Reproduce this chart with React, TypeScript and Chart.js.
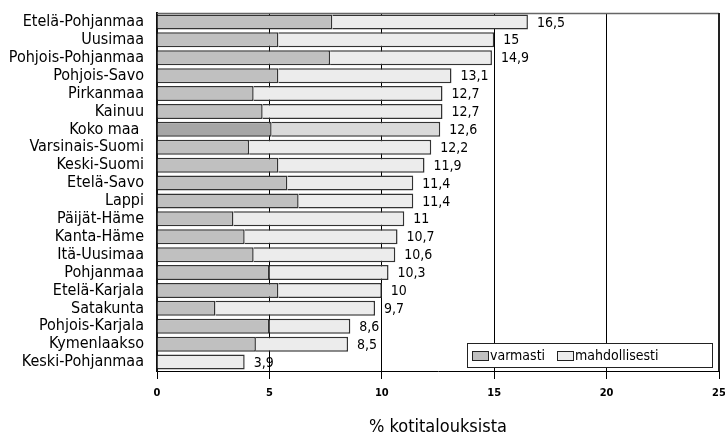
import React, { useEffect, useRef } from "react";
import { Chart, registerables } from "chart.js";

Chart.register(...registerables);

const categories = [
  "Etelä-Pohjanmaa",
  "Uusimaa",
  "Pohjois-Pohjanmaa",
  "Pohjois-Savo",
  "Pirkanmaa",
  "Kainuu",
  "Koko maa ",
  "Varsinais-Suomi",
  "Keski-Suomi",
  "Etelä-Savo",
  "Lappi",
  "Päijät-Häme",
  "Kanta-Häme",
  "Itä-Uusimaa",
  "Pohjanmaa",
  "Etelä-Karjala",
  "Satakunta",
  "Pohjois-Karjala",
  "Kymenlaakso",
  "Keski-Pohjanmaa",
];
const varmasti = [7.8, 5.4, 7.7, 5.4, 4.3, 4.7, 5.1, 4.1, 5.4, 5.8, 6.3, 3.4, 3.9, 4.3, 5.0, 5.4, 2.6, 5.0, 4.4, 0];
const mahdollisesti = [8.7, 9.6, 7.2, 7.7, 8.4, 8.0, 7.5, 8.1, 6.5, 5.6, 5.1, 7.6, 6.8, 6.3, 5.3, 4.6, 7.1, 3.6, 4.1, 3.9];
const totalLabels = ["16,5", "15", "14,9", "13,1", "12,7", "12,7", "12,6", "12,2", "11,9", "11,4", "11,4", "11", "10,7", "10,6", "10,3", "10", "9,7", "8,6", "8,5", "3,9"];
const seriesNames = ["varmasti", "mahdollisesti"];
const axisTitle = "% kotitalouksista";
const xMin = 0;
const xMax = 25;
const xStep = 5;
const highlight = "Koko maa ";

const FONT = '"DejaVu Sans Condensed", "Liberation Sans", sans-serif';
const DARK_COLORS = ["#c0c0c0", "#a6a6a6"];
const LIGHT_COLORS = ["#ececec", "#dadada"];

export default function App() {
  const ref = useRef<HTMLCanvasElement>(null);

  useEffect(() => {
    const canvas = ref.current;
    if (!canvas) return;

    const labelPlugin = {
      id: "bgAndLabels",
      beforeDraw(chart: any) {
        const ctx = chart.ctx;
        ctx.save();
        ctx.fillStyle = "#ffffff";
        ctx.fillRect(0, 0, chart.width, chart.height);
        const meta = chart.getDatasetMeta(1);
        ctx.fillStyle = "#000";
        ctx.font = `14px ${FONT}`;
        ctx.textAlign = "left";
        ctx.textBaseline = "middle";
        meta.data.forEach((bar: any, i: number) => {
          ctx.fillText(totalLabels[i], bar.x + 9, bar.y + 1);
        });
        ctx.restore();
      },
      afterDatasetsDraw(chart: any) {
        const { ctx, chartArea } = chart;
        ctx.save();
        ctx.strokeStyle = "#666";
        ctx.lineWidth = 1.5;
        ctx.beginPath();
        ctx.moveTo(chartArea.left, chartArea.top + 0.5);
        ctx.lineTo(chartArea.right, chartArea.top + 0.5);
        ctx.stroke();
        ctx.strokeStyle = "#222";
        ctx.lineWidth = 2;
        ctx.beginPath();
        ctx.moveTo(chartArea.right, chartArea.top);
        ctx.lineTo(chartArea.right, chartArea.bottom);
        ctx.stroke();
        ctx.restore();
      },
      afterDraw(chart: any) {
        const { ctx, chartArea } = chart;
        ctx.save();
        // legend box
        const bw = 245;
        const bh = 24;
        const bx = chartArea.right - 7 - bw;
        const by = chartArea.bottom - 4 - bh;
        ctx.fillStyle = "#fff";
        ctx.fillRect(bx, by, bw, bh);
        ctx.strokeStyle = "#222";
        ctx.lineWidth = 1;
        ctx.strokeRect(bx + 0.5, by + 0.5, bw, bh);
        ctx.font = `14px ${FONT}`;
        ctx.textBaseline = "middle";
        ctx.textAlign = "left";
        const items = [
          { x: bx + 5, color: DARK_COLORS[0], text: seriesNames[0] },
          { x: bx + 90, color: LIGHT_COLORS[0], text: seriesNames[1] },
        ];
        items.forEach((it) => {
          ctx.fillStyle = it.color;
          ctx.fillRect(it.x, by + 8, 16, 9);
          ctx.strokeStyle = "#222";
          ctx.strokeRect(it.x + 0.5, by + 8.5, 16, 9);
          ctx.fillStyle = "#000";
          ctx.fillText(it.text, it.x + 18, by + bh / 2 + 1);
        });
        // axis title
        ctx.font = `18px ${FONT}`;
        ctx.textAlign = "center";
        ctx.textBaseline = "middle";
        ctx.fillStyle = "#000";
        ctx.fillText(axisTitle, (chartArea.left + chartArea.right) / 2, 427);
        ctx.restore();
      },
    };

    const chart = new Chart(canvas, {
      type: "bar",
      data: {
        labels: categories,
        datasets: [
          {
            label: seriesNames[0],
            data: varmasti,
            backgroundColor: categories.map((c) => (c === highlight ? DARK_COLORS[1] : DARK_COLORS[0])),
            borderColor: "#333",
            borderWidth: 1.5,
            barPercentage: 0.84,
            categoryPercentage: 1.0,
          },
          {
            label: seriesNames[1],
            data: mahdollisesti,
            backgroundColor: categories.map((c) => (c === highlight ? LIGHT_COLORS[1] : LIGHT_COLORS[0])),
            borderColor: "#333",
            borderWidth: 1.5,
            barPercentage: 0.84,
            categoryPercentage: 1.0,
          },
        ],
      },
      options: {
        indexAxis: "y",
        responsive: false,
        animation: false,
        layout: { padding: { top: 13, right: 6, left: 0, bottom: 0 } },
        plugins: {
          legend: { display: false },
          tooltip: { enabled: false },
          title: { display: false },
        },
        scales: {
          x: {
            stacked: true,
            min: xMin,
            max: xMax,
            ticks: {
              stepSize: xStep,
              color: "#000",
              font: { family: FONT, size: 11, weight: "bold" },
              padding: 8,
            },
            grid: {
              color: "#000",
              lineWidth: 1,
              tickLength: 8,
              drawOnChartArea: true,
            },
            border: { display: true, color: "#000", width: 1 },
            afterFit: (scale: any) => {
              scale.height = 66;
              scale.paddingRight = 0;
              scale.paddingLeft = 0;
            },
          },
          y: {
            stacked: true,
            ticks: {
              color: "#000",
              font: { family: FONT, size: 16 },
              padding: 13,
              autoSkip: false,
            },
            grid: { display: false, drawTicks: false },
            border: { display: true, color: "#111", width: 2 },
            afterFit: (scale: any) => {
              scale.width = 157;
              scale.paddingTop = 0;
              scale.paddingBottom = 0;
            },
          },
        },
      },
      plugins: [labelPlugin],
    } as any);

    return () => chart.destroy();
  }, []);

  return (
    <div style={{ position: "absolute", left: 0, top: 0, width: 725, height: 437 }}>
      <canvas ref={ref} width={725} height={437} />
    </div>
  );
}
